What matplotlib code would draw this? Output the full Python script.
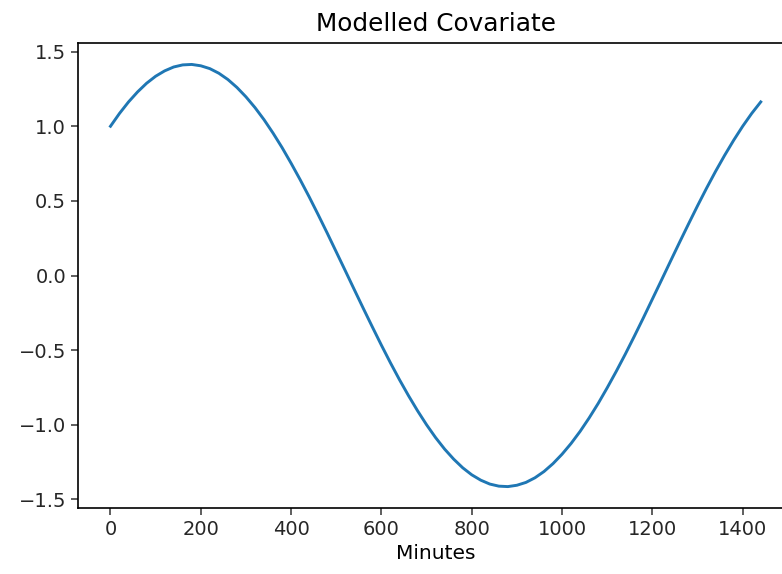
import numpy as np
import matplotlib.pyplot as plt

# Covariate values, every 20 minutes
minutes = list(range(0, 1441, 20))
covariate = [1.000, 1.086, 1.163, 1.230, 1.288, 1.335, 1.371, 1.397, 1.411,
             1.414, 1.405, 1.386, 1.355, 1.313, 1.260, 1.197, 1.125, 1.044,
             0.954, 0.857, 0.752, 0.642, 0.527, 0.407, 0.284, 0.158, 0.032,
             -0.095, -0.221, -0.345, -0.467, -0.585, -0.698, -0.805, -0.906,
             -1.000, -1.086, -1.163, -1.230, -1.288, -1.335, -1.371, -1.397,
             -1.411, -1.414, -1.405, -1.386, -1.355, -1.313, -1.260, -1.197,
             -1.125, -1.044, -0.954, -0.857, -0.752, -0.642, -0.527, -0.407,
             -0.284, -0.158, -0.032, 0.095, 0.221, 0.345, 0.467, 0.585, 0.698,
             0.805, 0.906, 1.000, 1.086, 1.163]

xticks = [0, 200, 400, 600, 800, 1000, 1200, 1400]
yticks = [-1.5, -1.0, -0.5, 0.0, 0.5, 1.0, 1.5]

plt.rcParams['font.size'] = 14
plt.rcParams['axes.linewidth'] = 1.2

fig = plt.figure(figsize=(7.82, 5.74), dpi=100)
# right spine sits just past the picture edge, like the reference
ax = fig.add_axes([0.0997, 0.1155, 0.9147, 0.809])
ax.plot(minutes, covariate, color='#1f77b4', linewidth=2.1)
ax.set_xticks(xticks)
ax.set_yticks(yticks)
ax.set_title("Modelled Covariate", fontsize=17.8, pad=9)
ax.set_xlabel("Minutes", fontsize=14.5)
ax.tick_params(length=5, width=1.1, colors='#333333', labelcolor='#262626')

fig.savefig("out.png", dpi=100)
